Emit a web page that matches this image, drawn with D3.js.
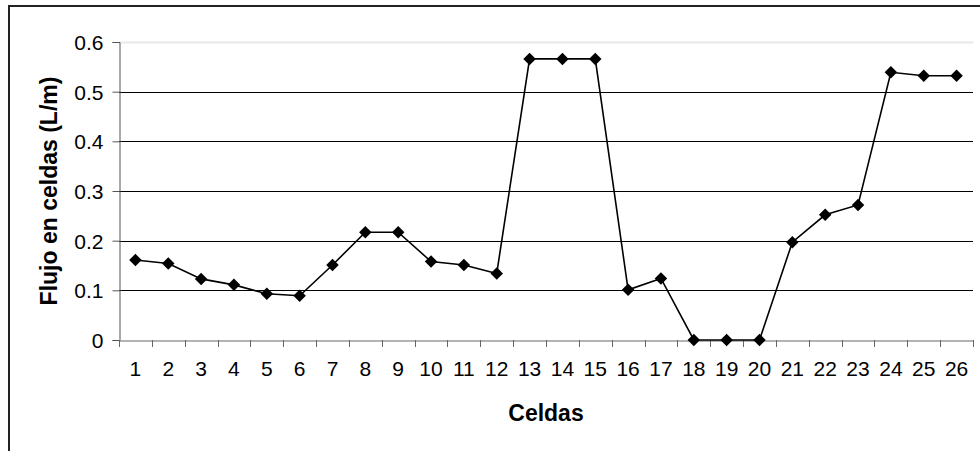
<html>
<head>
<script src="https://cdn.jsdelivr.net/npm/d3@7"></script>
<style>
  body { margin: 0; background: #fff; }
  text { font-family: "Liberation Sans", Arial, sans-serif; fill: #000; }
</style>
</head>
<body>
<script>

// data
var celdas = ['1','2','3','4','5','6','7','8','9','10','11','12','13',
  '14','15','16','17','18','19','20','21','22','23','24','25','26'];
var flujo = [0.161, 0.154, 0.123, 0.111, 0.093, 0.089, 0.151, 0.217, 0.217,
  0.158, 0.151, 0.134, 0.566, 0.566, 0.566, 0.101, 0.124, 0, 0, 0,
  0.197, 0.252, 0.272, 0.539, 0.532, 0.532];
var yTicks = [0, 0.1, 0.2, 0.3, 0.4, 0.5, 0.6];

var width = 980;
var height = 451;
var svg = d3.select('body').append('svg')
  .attr('width', width)
  .attr('height', height);

// outer chart border (runs off the right and bottom)
svg.append('rect')
  .attr('x', 9).attr('y', 6)
  .attr('width', 1000).attr('height', 500)
  .style('fill', 'none')
  .style('stroke', '#222')
  .style('stroke-width', 2);

var pLeft = 119, pRight = 973, pTop = 42, pBottom = 340;

var x = d3.scaleBand()
  .domain(celdas)
  .range([pLeft, pRight])
  .padding(0);
var y = d3.scaleLinear()
  .domain([0, 0.6])
  .range([pBottom, pTop]);

// gridlines
svg.append('g').selectAll('line')
  .data(yTicks.filter(function(d){ return d > 0; }))
  .enter()
  .append('line')
  .attr('x1', pLeft).attr('x2', pRight)
  .attr('y1', function(d){ return Math.round(y(d)) + 0.5; })
  .attr('y2', function(d){ return Math.round(y(d)) + 0.5; })
  .style('stroke', function(d){ return d >= 0.6 ? '#e8e8e8' : '#000'; })
  .style('stroke-width', function(d){ return d >= 0.6 ? 2 : 1; });

// y axis
var yAxis = svg.append('g')
  .attr('transform', 'translate(' + (pLeft + 0.5) + ',0)')
  .call(d3.axisLeft(y).tickValues(yTicks).tickSize(7).tickPadding(9)
    .tickFormat(function(d){ return d === 0 ? '0' : d3.format('.1f')(d); }));
yAxis.select('.domain').style('stroke', '#555');
yAxis.selectAll('.tick line').style('stroke', '#555');
yAxis.selectAll('text')
  .style('font-size', '21px')
  .style('font-family', '"Liberation Sans", Arial, sans-serif')
  .attr('dy', '0.35em');

// x axis, ticks between categories
var xAxis = svg.append('g')
  .attr('transform', 'translate(0,' + (pBottom + 0.5) + ')')
  .call(d3.axisBottom(x).tickSize(0).tickPadding(21));
xAxis.select('.domain').style('stroke', '#666');
xAxis.selectAll('text')
  .style('font-size', '21px')
  .style('font-family', '"Liberation Sans", Arial, sans-serif');

var bounds = celdas.map(function(d){ return x(d); }).concat([pRight]);
svg.append('g').selectAll('line')
  .data(bounds)
  .enter()
  .append('line')
  .attr('x1', function(d){ return Math.round(d) + 0.5; })
  .attr('x2', function(d){ return Math.round(d) + 0.5; })
  .attr('y1', pBottom).attr('y2', pBottom + 7)
  .style('stroke', '#666');

// series line
var line = d3.line()
  .x(function(d, i){ return x(celdas[i]) + x.bandwidth() / 2; })
  .y(function(d){ return y(d); });

svg.append('path')
  .datum(flujo)
  .attr('d', line)
  .style('fill', 'none')
  .style('stroke', '#000')
  .style('stroke-width', 1.6);

// diamond markers
svg.append('g').selectAll('path')
  .data(flujo)
  .enter()
  .append('path')
  .attr('d', d3.symbol(d3.symbolSquare, 78))
  .attr('transform', function(d, i){
    return 'translate(' + (x(celdas[i]) + x.bandwidth() / 2) + ',' + y(d) + ') rotate(45)';
  })
  .style('fill', '#000');

// axis titles
svg.append('text')
  .attr('x', (pLeft + pRight) / 2)
  .attr('y', 421)
  .attr('text-anchor', 'middle')
  .style('font-size', '23px')
  .style('font-weight', 'bold')
  .text('Celdas');

svg.append('text')
  .attr('transform', 'translate(57,' + ((pTop + pBottom) / 2) + ') rotate(-90)')
  .attr('text-anchor', 'middle')
  .style('font-size', '23px')
  .style('font-weight', 'bold')
  .text('Flujo en celdas (L/m)');

</script>
</body>
</html>
